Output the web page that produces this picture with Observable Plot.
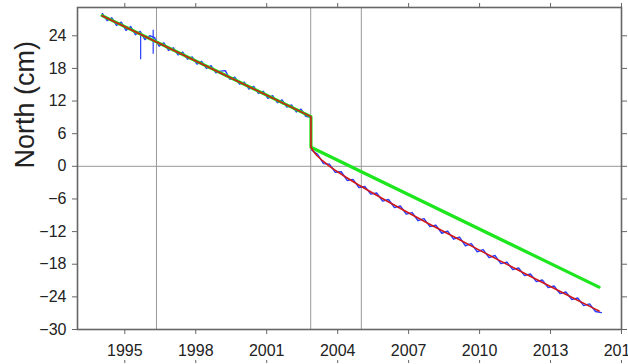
<!DOCTYPE html>
<html><head><meta charset="utf-8">
<script src="https://cdn.jsdelivr.net/npm/d3@7"></script>
<script src="https://cdn.jsdelivr.net/npm/@observablehq/plot@0.6"></script>
<style>
html,body{margin:0;padding:0;background:#fff;overflow:hidden;}
#chart{width:628px;height:364px;overflow:hidden;}
</style></head><body><div id="chart"></div>
<script>
// tick values
const yTicks = [-30, -24, -18, -12, -6, 0, 6, 12, 18, 24];
const xTicks = [1995, 1998, 2001, 2004, 2007, 2010, 2013, 2016];
// vertical reference lines (years)
const eventYears = [1996.34, 2002.86, 2005.0];

// observed north component (cm), regular sampling
const preStart = 1994.05, preStep = 0.2;
const preNorth = [28.1, 26.8, 27.3, 25.9, 26.5, 25.0, 25.7, 24.2, 24.8, 23.3,
  24.0, 23.7, 22.1, 22.7, 21.3, 21.8, 20.5, 21.0, 19.7, 20.1,
  18.8, 19.3, 18.0, 18.5, 17.2, 17.5, 17.6, 16.0, 16.4, 15.1,
  15.5, 14.2, 14.7, 13.4, 13.8, 12.5, 13.0, 11.7, 12.2, 10.9,
  11.3, 10.0, 10.5, 9.2, 9.0];
const postStart = 2002.9, postStep = 0.25;
const postNorth = [3.0, 2.2, 0.5, 0.4, -1.1, -1.0, -2.6, -2.4, -3.9, -3.7,
  -5.1, -4.9, -6.4, -6.1, -7.6, -7.3, -8.8, -8.5, -10.0, -9.6,
  -11.1, -10.8, -12.3, -11.9, -13.4, -13.0, -14.6, -14.2, -15.7, -15.3,
  -16.8, -16.4, -17.9, -17.6, -19.0, -18.7, -20.1, -19.8, -21.2, -20.9,
  -22.3, -22.0, -23.4, -23.1, -24.5, -24.2, -25.6, -25.3, -26.7, -26.9];
// outlier spikes
const spikeYear = [1995.67, 1996.2];
const spikeLow = [19.6, 20.6];
const spikeHigh = [24.4, 25.0];

// linear trend + offset (green)
const trendYear = [1994.04, 2002.87, 2002.87, 2015.05];
const trendNorth = [27.7, 9.14, 3.5, -22.2];
// full model with postseismic (red)
const modelYear = [1994.04, 2002.87, 2002.87, 2002.97, 2003.12, 2003.37, 2003.62, 2003.87,
  2004.37, 2004.87, 2005.87, 2006.87, 2007.87, 2008.87, 2009.87, 2010.87, 2011.87,
  2012.87, 2013.87, 2014.87, 2015.05];
const modelNorth = [27.7, 9.14, 3.5, 2.78, 1.99, 0.98, 0.13, -0.65,
  -2.06, -3.38, -5.87, -8.26, -10.59, -12.87, -15.13, -17.38, -19.60,
  -21.82, -24.02, -26.21, -26.61];

const yLabel = "North (cm)";

const obsPre = preNorth.map((v, i) => ({t: preStart + i * preStep, v}));
const obsPost = postNorth.map((v, i) => ({t: postStart + i * postStep, v}));
const spikes = spikeYear.map((t, i) => ({t, lo: spikeLow[i], hi: spikeHigh[i]}));
const trend = trendYear.map((t, i) => ({t, v: trendNorth[i]}));
const model = modelYear.map((t, i) => ({t, v: modelNorth[i]}));

const axisStroke = "#666";
const blue = "#2a3cff";
const chart = Plot.plot({
  width: 628,
  height: 364,
  marginLeft: 77,
  marginRight: 7,
  marginTop: 7,
  marginBottom: 35,
  style: {fontFamily: "'Liberation Sans', Arial, sans-serif", fontSize: "16px", color: "#222", background: "#fff"},
  x: {domain: [1993, 2016], axis: null},
  y: {domain: [-30, 29.2], axis: null},
  marks: [
    Plot.ruleY([0], {stroke: "#999", strokeWidth: 1}),
    Plot.ruleX(eventYears, {stroke: "#999", strokeWidth: 1}),
    Plot.line(obsPre, {x: "t", y: "v", stroke: blue, strokeWidth: 1.4}),
    Plot.line(obsPost, {x: "t", y: "v", stroke: blue, strokeWidth: 1.4}),
    Plot.ruleX(spikes, {x: "t", y1: "lo", y2: "hi", stroke: blue, strokeWidth: 1.2}),
    Plot.line(trend, {x: "t", y: "v", stroke: "#1ee61e", strokeWidth: 3.2}),
    Plot.line(model, {x: "t", y: "v", stroke: "#d01818", strokeWidth: 1.6}),
    Plot.frame({stroke: axisStroke, strokeWidth: 1.6}),
    Plot.axisY({anchor: "left", ticks: yTicks, tickSize: 5, tickPadding: 6, stroke: axisStroke, fontSize: 16, label: null}),
    Plot.axisY({anchor: "right", ticks: yTicks, tickSize: 5, tickFormat: () => "", stroke: axisStroke, label: null}),
    Plot.axisX({anchor: "bottom", ticks: xTicks, tickSize: 5, tickPadding: 10, tickFormat: d => String(d), stroke: axisStroke, fontSize: 16, label: null}),
    Plot.axisX({anchor: "top", ticks: xTicks, tickSize: 5, tickFormat: () => "", stroke: axisStroke, label: null}),
    Plot.axisX({anchor: "bottom", ticks: xTicks, tickSize: 3, tickFormat: () => "", stroke: axisStroke, dy: 31, label: null}),
    Plot.text([yLabel], {frameAnchor: "left", dx: -43.5, rotate: -90, text: d => d, lineAnchor: "bottom",
      fontSize: 27, letterSpacing: 2, fill: "#222"})
  ]
});
document.getElementById("chart").appendChild(chart);
</script></body></html>
